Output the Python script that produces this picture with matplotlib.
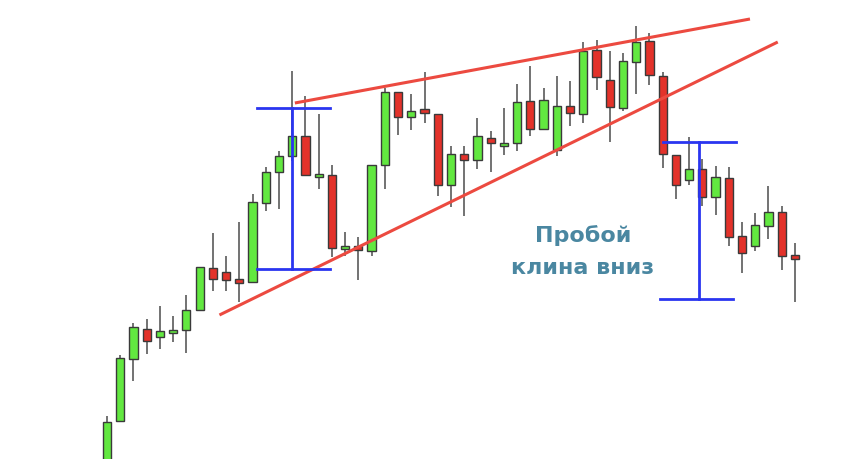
import matplotlib
matplotlib.use("Agg")
import matplotlib.pyplot as plt
from matplotlib.patches import Rectangle

# Candle data (arbitrary price units)
opens = [-10, 38, 100, 130, 122, 128, 129, 149, 191, 187, 180, 177, 256, 287, 303, 323,
         284, 284, 211, 213, 208, 294, 367, 342, 350, 345, 274, 305, 299, 321, 315, 316,
         358, 330, 309, 353, 345, 409, 379, 351, 397, 418, 383, 304, 279, 290, 262, 281,
         223, 213, 233, 247, 204]
closes = [37, 101, 132, 118, 128, 128, 149, 192, 180, 179, 176, 257, 287, 303, 323, 284,
          284, 211, 213, 209, 294, 367, 342, 348, 346, 274, 305, 299, 323, 316, 315, 357,
          330, 359, 353, 346, 408, 382, 352, 398, 417, 384, 305, 274, 290, 262, 282, 222,
          206, 234, 247, 203, 200]
highs = [43, 104, 136, 140, 153, 143, 164, 192, 226, 203, 237, 265, 292, 308, 388, 363,
         345, 294, 227, 222, 294, 371, 367, 365, 387, 345, 313, 313, 341, 328, 351, 375,
         393, 371, 383, 378, 417, 419, 408, 406, 433, 426, 387, 304, 322, 300, 293, 292,
         237, 246, 273, 253, 216]
lows = [-20, 38, 78, 105, 110, 117, 106, 149, 168, 168, 157, 177, 248, 250, 298, 284,
        270, 202, 203, 179, 203, 270, 324, 329, 336, 263, 252, 243, 290, 287, 304, 308,
        323, 329, 303, 333, 336, 369, 317, 348, 365, 374, 291, 260, 274, 253, 244, 213,
        186, 208, 220, 189, 157]

# Annotation lines (index, price)
upper_line_x = [14.2, 48.6]
upper_line_y = [356, 440]
lower_line_x = [8.5, 50.7]
lower_line_y = [144, 417]
m1_x = [11.34, 16.86]
m1_center = 13.98
m1_top, m1_bottom = 351, 190
m2_top_x = [42.03, 47.54]
m2_bot_x = [41.8, 47.32]
m2_center = 44.75
m2_top, m2_bottom = 317, 160
label_lines = ["Пробой", "клина вниз"]

GREEN = "#62e840"
RED = "#e3322a"
EDGE = "#3a3a3a"
WICK = "#5a5a5a"

fig = plt.figure(figsize=(8.66, 4.6), dpi=100)
ax = fig.add_axes([0, 0, 1, 1])
ax.set_xlim(-8.088, 57.37)
ax.set_ylim(0, 460)
ax.axis("off")

w = 0.62
min_h = 3
for i, (o, h, l, c) in enumerate(zip(opens, highs, lows, closes)):
    color = GREEN if c >= o else RED
    ax.plot([i, i], [l, h], color=WICK, lw=1.2, zorder=2, solid_capstyle="butt")
    bot = min(o, c)
    ht = abs(c - o)
    if ht < min_h:
        bot = (o + c) / 2 - min_h / 2
        ht = min_h
    ax.add_patch(Rectangle((i - w / 2, bot), w, ht, facecolor=color,
                           edgecolor=EDGE, lw=1.0, zorder=3))

# Red wedge lines
ax.plot(upper_line_x, upper_line_y, color="#ec4a40", lw=2.2, zorder=4, solid_capstyle="butt")
ax.plot(lower_line_x, lower_line_y, color="#ec4a40", lw=2.2, zorder=4, solid_capstyle="butt")

# Blue measurement lines
BLUE = "#2a35f0"
ax.plot(m1_x, [m1_top, m1_top], color=BLUE, lw=2.0, zorder=5)
ax.plot(m1_x, [m1_bottom, m1_bottom], color=BLUE, lw=2.0, zorder=5)
ax.plot([m1_center, m1_center], [m1_top, m1_bottom], color=BLUE, lw=2.0, zorder=5)
ax.plot(m2_top_x, [m2_top, m2_top], color=BLUE, lw=2.0, zorder=5)
ax.plot(m2_bot_x, [m2_bottom, m2_bottom], color=BLUE, lw=2.0, zorder=5)
ax.plot([m2_center, m2_center], [m2_top, m2_bottom], color=BLUE, lw=2.0, zorder=5)

ax.text(35.98, 224, label_lines[0], ha="center", va="center", fontsize=16,
        fontweight="bold", color="#4a87a1", family="DejaVu Sans")
ax.text(35.98, 192, label_lines[1], ha="center", va="center", fontsize=16,
        fontweight="bold", color="#4a87a1", family="DejaVu Sans")

fig.savefig("out.png", dpi=100)
